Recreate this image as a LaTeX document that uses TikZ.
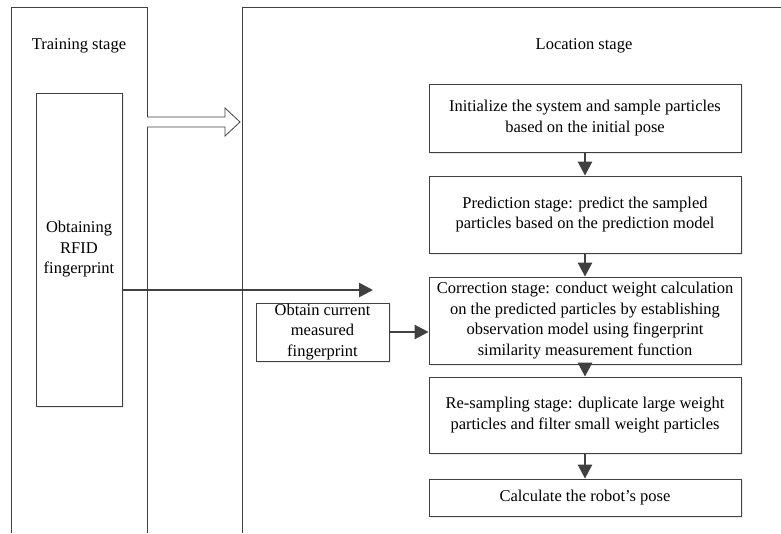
\documentclass[tikz,border=0pt]{standalone}
\usepackage{fontspec}
\setmainfont{Liberation Serif}
\usetikzlibrary{arrows.meta, shadows}

\definecolor{linegray}{HTML}{404040}

\begin{document}
\begin{tikzpicture}[x=1pt, y=-1pt,
  every node/.style={font=\fontsize{16.5}{20.5}\selectfont},
  stagebox/.style={draw=linegray, line width=0.8pt, fill=white, align=center, inner sep=0pt,
    drop shadow={shadow xshift=2pt, shadow yshift=-2pt, fill=black!8, opacity=1}},
  flow/.style={draw=linegray, line width=2.6pt, -{Triangle[length=14pt, width=14pt]}}]
\useasboundingbox (0,0) rectangle (781,533);

% panels
\draw[linegray, line width=0.8pt] (11,533) -- (11,7) -- (147,7) -- (147,533);
\draw[linegray, line width=0.8pt] (781,7) -- (242,7) -- (242,533);
\node (T) at (79,46)  {Training stage};
\node (L) at (584,46) {Location stage};

\node[stagebox, minimum width=86pt, minimum height=313pt] (R) at (79,249.5) {Obtaining\\RFID\\fingerprint};
\node[stagebox, minimum width=133pt, minimum height=58pt] (M) at (322.5,332) {Obtain current\\measured\\fingerprint};

\node[stagebox, minimum width=312pt, minimum height=68pt] (A) at (585,118)   {Initialize the system and sample particles\\based on the initial pose};
\node[stagebox, minimum width=312pt, minimum height=77pt] (B) at (585,214.5) {Prediction stage: predict the sampled\\particles based on the prediction model};
\node[stagebox, minimum width=312pt, minimum height=87pt] (C) at (585,320.5) {Correction stage: conduct weight calculation\\on the predicted particles by establishing\\observation model using fingerprint\\similarity measurement function};
\node[stagebox, minimum width=312pt, minimum height=76pt] (D) at (585,415)   {Re-sampling stage: duplicate large weight\\particles and filter small weight particles};
\node[stagebox, minimum width=312pt, minimum height=37pt] (E) at (585,497.5) {Calculate the robot's pose};

% hollow arrow training -> location
\draw[linegray, line width=0.8pt, fill=white] (147,117) -- (225,117) -- (225,108) -- (240,122)
  -- (225,136) -- (225,127) -- (147,127);

\coordinate (S) at (373,290);
\draw[flow] (R.east |- S) -- (S);
\draw[flow] (M) -- (M -| C.west);

\draw[flow] (A) -- (B);
\draw[flow] (B) -- (C);
\draw[flow] (C) -- (D);
\draw[flow] (D) -- (E);
\end{tikzpicture}
\end{document}
